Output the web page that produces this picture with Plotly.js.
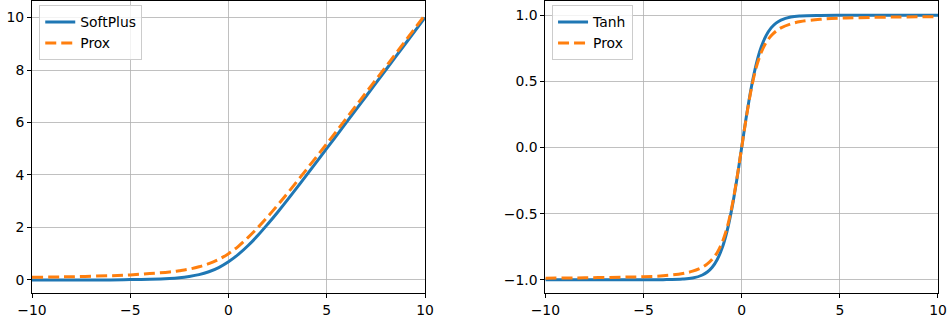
<!DOCTYPE html>
<html>
<head>
<meta charset="utf-8">
<script src="https://cdn.plot.ly/plotly-3.0.1.min.js"></script>
<style>html,body{margin:0;padding:0;background:#fff;}#chart{width:948px;height:320px;}</style>
</head>
<body>
<div id="chart"></div>
<script>
// Left panel: SoftPlus vs Prox
const xSoft = [-10, -8, -6, -5, -4, -3, -2.5, -2, -1.5, -1, -0.5, 0, 0.5, 1, 1.5, 2, 2.5, 3, 4, 5, 6, 7, 8, 9, 10];
const ySoftPlus = [0.00, 0.00, 0.00, 0.01, 0.02, 0.05, 0.08, 0.13, 0.20, 0.31, 0.47, 0.69, 0.97, 1.31, 1.70, 2.13, 2.58, 3.05, 4.02, 5.01, 6.00, 7.00, 8.00, 9.00, 10.00];
const yProxSoft = [0.10, 0.12, 0.16, 0.19, 0.24, 0.30, 0.35, 0.41, 0.50, 0.62, 0.78, 1.00, 1.28, 1.62, 2.00, 2.41, 2.85, 3.30, 4.24, 5.19, 6.16, 7.14, 8.12, 9.11, 10.10];

// Right panel: Tanh vs Prox
const xTanh = [-10, -8, -6, -5, -4, -3, -2.5, -2, -1.75, -1.5, -1.25, -1, -0.75, -0.5, -0.25, 0, 0.25, 0.5, 0.75, 1, 1.25, 1.5, 1.75, 2, 2.5, 3, 4, 5, 6, 8, 10];
const yTanh = [-1.000, -1.000, -1.000, -1.000, -0.999, -0.995, -0.987, -0.964, -0.941, -0.905, -0.848, -0.762, -0.635, -0.462, -0.245, 0.000, 0.245, 0.462, 0.635, 0.762, 0.848, 0.905, 0.941, 0.964, 0.987, 0.995, 0.999, 1.000, 1.000, 1.000, 1.000];
const yProxTanh = [-0.988, -0.985, -0.980, -0.977, -0.970, -0.953, -0.935, -0.905, -0.880, -0.845, -0.795, -0.720, -0.610, -0.450, -0.240, 0.000, 0.240, 0.450, 0.610, 0.720, 0.795, 0.845, 0.880, 0.905, 0.935, 0.953, 0.970, 0.978, 0.982, 0.987, 0.990];

const xTicks = [-10, -5, 0, 5, 10];
const blue = '#1f77b4', orange = '#ff7f0e';
const font = {family: 'DejaVu Sans, sans-serif', size: 13.9, color: '#000'};

const traces = [
  {x: xSoft, y: ySoftPlus, name: 'SoftPlus', mode: 'lines', line: {color: blue, width: 3, shape: 'spline'}, xaxis: 'x', yaxis: 'y', legend: 'legend'},
  {x: xSoft, y: yProxSoft, name: 'Prox', mode: 'lines', line: {color: orange, width: 3, dash: '11px,5px', shape: 'spline'}, xaxis: 'x', yaxis: 'y', legend: 'legend'},
  {x: xTanh, y: yTanh, name: 'Tanh', mode: 'lines', line: {color: blue, width: 3, shape: 'spline'}, xaxis: 'x2', yaxis: 'y2', legend: 'legend2'},
  {x: xTanh, y: yProxTanh, name: 'Prox', mode: 'lines', line: {color: orange, width: 3, dash: '11px,5px', shape: 'spline'}, xaxis: 'x2', yaxis: 'y2', legend: 'legend2'}
];

const axBase = {
  showline: true, mirror: true, linecolor: '#000', linewidth: 1,
  ticks: 'outside', ticklen: 4, tickwidth: 1, tickcolor: '#000',
  showgrid: true, gridcolor: '#b0b0b0', gridwidth: 0.8,
  zeroline: false, tickfont: font
};

const legBase = {
  bgcolor: 'rgba(255,255,255,0.8)', bordercolor: '#cccccc', borderwidth: 1,
  font: font, xanchor: 'left', yanchor: 'top', tracegroupgap: 0
};

const layout = {
  width: 948, height: 320,
  margin: {l: 32, r: 10, t: 1, b: 27},
  paper_bgcolor: '#fff', plot_bgcolor: '#fff',
  font: font,
  showlegend: true,
  xaxis: Object.assign({}, axBase, {domain: [0, 0.4338], range: [-10, 10], tickvals: xTicks, anchor: 'y'}),
  yaxis: Object.assign({}, axBase, {range: [-0.5, 10.63], dtick: 2, tick0: 0, anchor: 'x'}),
  xaxis2: Object.assign({}, axBase, {domain: [0.5666, 1], range: [-10, 10], tickvals: xTicks, anchor: 'y2'}),
  yaxis2: Object.assign({}, axBase, {range: [-1.1, 1.108], dtick: 0.5, tick0: 0, tickformat: '.1f', anchor: 'x2'}),
  legend: Object.assign({}, legBase, {x: 0.008, y: 0.985}),
  legend2: Object.assign({}, legBase, {x: 0.574, y: 0.985})
};

Plotly.newPlot('chart', traces, layout, {displayModeBar: false, staticPlot: true});
</script>
</body>
</html>
